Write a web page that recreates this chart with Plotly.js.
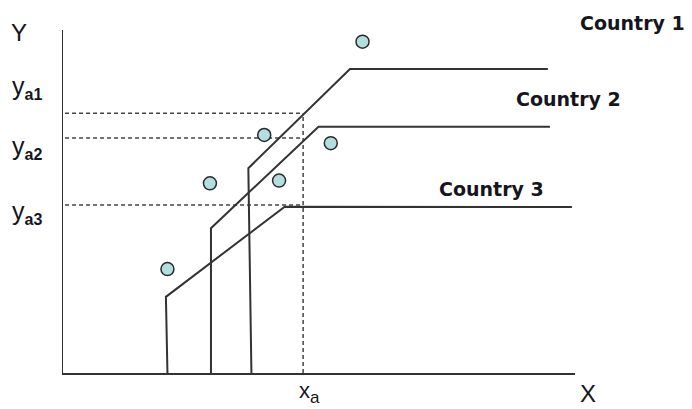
<!DOCTYPE html>
<html>
<head>
<meta charset="utf-8">
<script src="https://cdn.plot.ly/plotly-3.0.1.min.js"></script>
<style>html,body{margin:0;padding:0;background:#fff;}#chart{width:692px;height:409px;}</style>
</head>
<body>
<div id="chart"></div>
<script>
// Country frontier paths (schematic units, 0-100 on each axis)
const country1X = [36.8, 36.2, 56.05, 94.7];
const country1Y = [0, 59.7, 88.6, 88.6];
const country2X = [28.9, 28.9, 49.9, 95.1];
const country2Y = [0, 42.2, 71.8, 71.8];
const country3X = [20.4, 20.1, 43.3, 99.4];
const country3Y = [0, 22.2, 48.5, 48.4];
// observed points
const pointX = [58.5, 39.3, 52.3, 28.7, 42.2, 20.4];
const pointY = [96.6, 69.4, 67.0, 55.3, 56.1, 30.3];
// reference levels
const xA = 46.9;
const yA = [75.7, 68.5, 49.0];
const dashStart = 0.4;
const ySubs = ['a1', 'a2', 'a3'];
const countryLabels = ['Country 1', 'Country 2', 'Country 3'];

const lineStyle = {color: '#333', width: 2};
const dashStyle = {color: '#444', width: 1.5, dash: '4px,3px'};

const traces = [];
yA.forEach(v => traces.push({x: [dashStart, xA], y: [v, v], mode: 'lines', line: dashStyle}));
traces.push({x: [xA, xA], y: [0, yA[0]], mode: 'lines', line: dashStyle});
traces.push({x: country1X, y: country1Y, mode: 'lines', line: lineStyle});
traces.push({x: country2X, y: country2Y, mode: 'lines', line: lineStyle});
traces.push({x: country3X, y: country3Y, mode: 'lines', line: lineStyle});
traces.push({x: pointX, y: pointY, mode: 'markers', cliponaxis: false,
  marker: {size: 13, color: '#b3dede', line: {color: '#2a2a2a', width: 1.5}}});

const txt = '#151520';
const regFont = {family: 'Liberation Sans, Arial, sans-serif', size: 24, color: txt};
const yFont = {family: 'Liberation Sans, Arial, sans-serif', size: 25, color: txt};
const xaFont = {family: 'Liberation Sans, Arial, sans-serif', size: 22, color: txt};
const boldFont = {family: 'DejaVu Sans, sans-serif', size: 19, color: txt, weight: 'bold'};
const subLabel = s => 'y<sub><b><span style="font-size:16px">' + s + '</span></b></sub>';

const ann = [
  {x: -0.0853, y: 0.994, text: 'Y', xanchor: 'center', yanchor: 'middle', font: regFont},
  {x: -0.1035, y: 0.831, text: subLabel(ySubs[0]), xanchor: 'left', yanchor: 'middle', font: yFont},
  {x: -0.1035, y: 0.656, text: subLabel(ySubs[1]), xanchor: 'left', yanchor: 'middle', font: yFont},
  {x: -0.1035, y: 0.469, text: subLabel(ySubs[2]), xanchor: 'left', yanchor: 'middle', font: yFont},
  {x: 0.458, y: -0.058, text: 'x<sub><span style="font-size:17px">a</span></sub>', xanchor: 'left', yanchor: 'middle', font: xaFont},
  {x: 1.0254, y: -0.106, text: 'X', xanchor: 'center', yanchor: 'bottom', font: regFont},
  {x: 1.113, y: 1.02, text: '<b>' + countryLabels[0] + '</b>', xanchor: 'center', yanchor: 'middle', font: boldFont},
  {x: 0.988, y: 0.80, text: '<b>' + countryLabels[1] + '</b>', xanchor: 'center', yanchor: 'middle', font: boldFont},
  {x: 0.837, y: 0.537, text: '<b>' + countryLabels[2] + '</b>', xanchor: 'center', yanchor: 'middle', font: boldFont}
].map(a => Object.assign({xref: 'paper', yref: 'paper', showarrow: false}, a));

const axisCommon = {showgrid: false, zeroline: false, showticklabels: false, ticks: '',
  showline: true, linecolor: '#333', linewidth: 1.5, fixedrange: true};

const layout = {
  width: 692, height: 409,
  margin: {l: 63, r: 117, t: 30, b: 36},
  paper_bgcolor: '#fff', plot_bgcolor: '#fff',
  showlegend: false, hovermode: false,
  xaxis: Object.assign({range: [0, 100]}, axisCommon),
  yaxis: Object.assign({range: [0, 100]}, axisCommon),
  annotations: ann
};

Plotly.newPlot('chart', traces, layout, {staticPlot: true, displayModeBar: false});
</script>
</body>
</html>
